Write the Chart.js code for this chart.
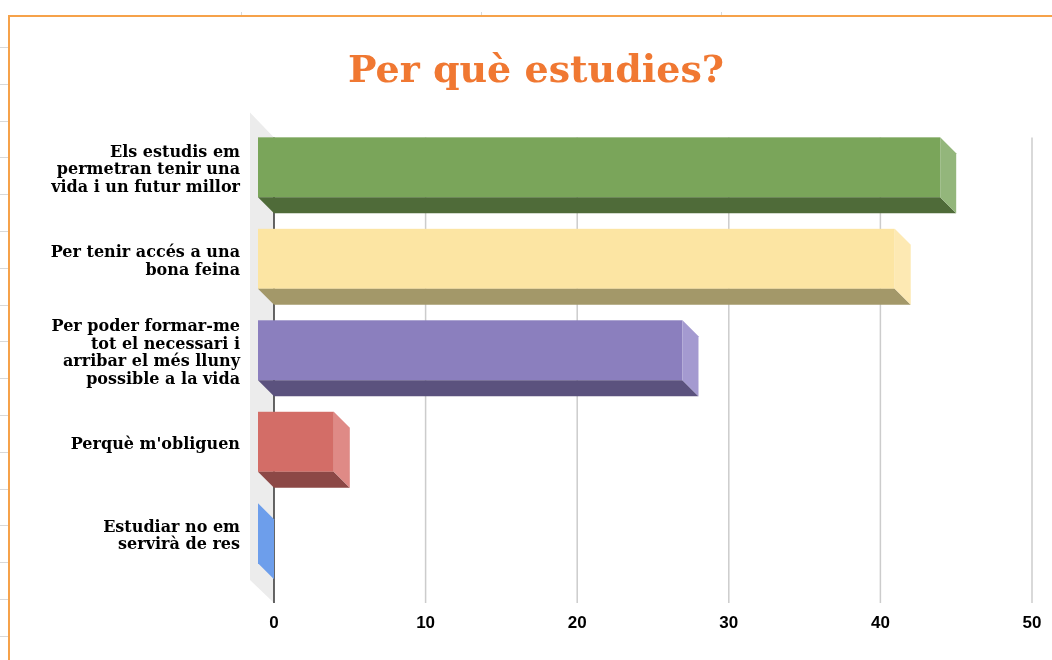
<!DOCTYPE html>
<html>
<head>
<meta charset="utf-8">
<script src="https://cdn.jsdelivr.net/npm/chart.js@4"></script>
<style>
  html, body { margin: 0; padding: 0; background: #fff; }
  #wrap { width: 1052px; height: 660px; }
</style>
</head>
<body>
<div id="wrap"><canvas id="chart" width="1052" height="660"></canvas></div>
<script>
'use strict';

const CATEGORIES = [
  ['Els estudis em', 'permetran tenir una', 'vida i un futur millor'],
  ['Per tenir accés a una', 'bona feina'],
  ['Per poder formar-me', 'tot el necessari i', 'arribar el més lluny', 'possible a la vida'],
  ["Perquè m'obliguen"],
  ['Estudiar no em', 'servirà de res'],
];
const VALUES = [45, 42, 28, 5, 0];
const X_TICKS = [0, 10, 20, 30, 40, 50];

// front / top-bottom shade / side shade per bar
const FRONT  = ['#7aa55a', '#fce5a3', '#8b7fbe', '#d36d67', '#6d9eeb'];
const BOTTOM = ['#4f6b39', '#a39869', '#5b527e', '#8c4846', '#4a6ea8'];
const SIDE   = ['#93b67b', '#fde9b3', '#a49ad0', '#df8a86', '#6d9eeb'];

const DEPTH = 16;
const WALL  = 24;

function poly(ctx, pts, fill) {
  ctx.beginPath();
  ctx.moveTo(pts[0][0], pts[0][1]);
  for (let i = 1; i < pts.length; i++) ctx.lineTo(pts[i][0], pts[i][1]);
  ctx.closePath();
  ctx.fillStyle = fill;
  ctx.fill();
}

const frame3d = {
  id: 'frame3d',
  beforeDraw(chart) {
    const ctx = chart.ctx;
    ctx.save();
    // sheet marks behind the chart
    ctx.strokeStyle = '#d9d9d9';
    ctx.lineWidth = 1;
    for (let y = 47; y < 660; y += 36.8) {
      ctx.beginPath(); ctx.moveTo(0, Math.round(y) + 0.5); ctx.lineTo(8, Math.round(y) + 0.5); ctx.stroke();
    }
    [241, 481, 721].forEach(x => {
      ctx.beginPath(); ctx.moveTo(x + 0.5, 12); ctx.lineTo(x + 0.5, 16); ctx.stroke();
    });
    // orange frame
    ctx.strokeStyle = '#f6a24a';
    ctx.lineWidth = 2;
    ctx.beginPath();
    ctx.moveTo(9, 662); ctx.lineTo(9, 16); ctx.lineTo(1054, 16);
    ctx.stroke();
    ctx.restore();
  },
  beforeDatasetsDraw(chart) {
    const ctx = chart.ctx;
    const a = chart.chartArea;
    const xs = chart.scales.x;
    const top = a.top + 8;
    const bottom = a.bottom + DEPTH;
    ctx.save();
    // back wall
    poly(ctx, [[a.left - WALL, top - 25], [a.left, top], [a.left, bottom], [a.left - WALL, bottom - 23]], '#ececec');
    // gridlines
    ctx.strokeStyle = '#cccccc';
    ctx.lineWidth = 1.5;
    X_TICKS.slice(1).forEach(v => {
      const px = xs.getPixelForValue(v);
      ctx.beginPath(); ctx.moveTo(px, top); ctx.lineTo(px, bottom); ctx.stroke();
    });
    ctx.strokeStyle = '#333333';
    const zx = xs.getPixelForValue(0);
    ctx.beginPath(); ctx.moveTo(zx, top); ctx.lineTo(zx, bottom); ctx.stroke();
    ctx.restore();
  },
  afterDatasetsDraw(chart) {
    const ctx = chart.ctx;
    const meta = chart.getDatasetMeta(0);
    ctx.save();
    meta.data.forEach((bar, i) => {
      const p = bar.getProps(['x', 'y', 'base', 'height'], true);
      const x0 = p.base - DEPTH, x1 = p.x - DEPTH;
      const t = p.y - p.height / 2 - DEPTH / 2;
      const b = p.y + p.height / 2 - DEPTH / 2;
      if (x1 > x0) {
        ctx.fillStyle = FRONT[i];
        ctx.fillRect(x0, t, x1 - x0, b - t);
        poly(ctx, [[x0, b], [x1, b], [x1 + DEPTH, b + DEPTH], [x0 + DEPTH, b + DEPTH]], BOTTOM[i]);
      }
      poly(ctx, [[x1, t], [x1 + DEPTH, t + DEPTH], [x1 + DEPTH, b + DEPTH], [x1, b]], SIDE[i]);
    });
    ctx.restore();
  },
};

new Chart(document.getElementById('chart'), {
  type: 'bar',
  data: {
    labels: CATEGORIES,
    datasets: [{
      data: VALUES,
      backgroundColor: 'rgba(0,0,0,0)',
      barPercentage: 0.656,
      categoryPercentage: 1,
    }],
  },
  options: {
    indexAxis: 'y',
    responsive: false,
    animation: false,
    layout: { padding: { left: 40, right: 20, top: 24, bottom: 23 } },
    plugins: {
      legend: { display: false },
      tooltip: { enabled: false },
      title: {
        display: true,
        text: 'Per què estudies?',
        color: '#f07832',
        font: { family: '"DejaVu Serif", serif', size: 38, weight: 'bold' },
        padding: { top: 25, bottom: 35 },
      },
    },
    scales: {
      x: {
        min: 0,
        max: 50,
        afterFit: s => { s.height = 50; },
        afterBuildTicks: s => { s.ticks = X_TICKS.map(v => ({ value: v })); },
        ticks: {
          color: '#000',
          padding: 0,
          font: { family: '"Liberation Sans", Arial, sans-serif', size: 17, weight: 'bold' },
        },
        grid: { display: false, drawTicks: true, tickLength: 26 },
        border: { display: false },
      },
      y: {
        afterFit: s => { s.width = 234; },
        ticks: {
          color: '#000',
          padding: 34,
          labelOffset: -5,
          font: { family: '"DejaVu Serif", serif', size: 16, weight: 'bold', lineHeight: 1.1 },
        },
        grid: { display: false, drawTicks: false },
        border: { display: false },
      },
    },
  },
  plugins: [frame3d],
});
</script>
</body>
</html>
